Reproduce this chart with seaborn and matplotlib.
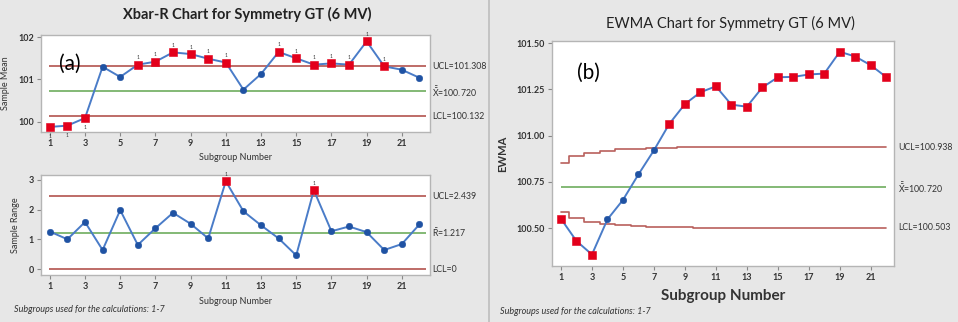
import matplotlib
matplotlib.use("Agg")
import matplotlib.pyplot as plt
import seaborn as sns
import pandas as pd
from matplotlib.lines import Line2D

# ---------------- data ----------------
subgroups = list(range(1, 23))
xbar = [99.88, 99.91, 100.09, 101.30, 101.06, 101.35, 101.42, 101.64, 101.60, 101.49, 101.40,
        100.76, 101.13, 101.65, 101.50, 101.35, 101.38, 101.35, 101.90, 101.31, 101.23, 101.04]
xbar_flag = [1, 1, 1, 0, 0, 1, 1, 1, 1, 1, 1, 0, 0, 1, 1, 1, 1, 1, 1, 1, 0, 0]
xbar_limits = {"UCL": 101.308, "CL": 100.720, "LCL": 100.132}

rng = [1.26, 1.00, 1.58, 0.64, 1.98, 0.81, 1.37, 1.89, 1.52, 1.03, 2.95,
       1.94, 1.47, 1.03, 0.46, 2.65, 1.27, 1.43, 1.24, 0.64, 0.84, 1.50]
rng_flag = [0, 0, 0, 0, 0, 0, 0, 0, 0, 0, 1, 0, 0, 0, 0, 1, 0, 0, 0, 0, 0, 0]
rng_limits = {"UCL": 2.439, "CL": 1.217, "LCL": 0.0}

ewma = [100.55, 100.43, 100.357, 100.547, 100.652, 100.79, 100.92, 101.064, 101.17, 101.234, 101.266,
        101.167, 101.156, 101.26, 101.315, 101.317, 101.33, 101.335, 101.453, 101.427, 101.38, 101.316]
ewma_flag = [1, 1, 1, 0, 0, 0, 0, 1, 1, 1, 1, 1, 1, 1, 1, 1, 1, 1, 1, 1, 1, 1]
ewma_ucl = [100.851, 100.887, 100.907, 100.919, 100.926, 100.930, 100.933, 100.935, 100.936, 100.937, 100.937,
            100.938, 100.938, 100.938, 100.938, 100.938, 100.938, 100.938, 100.938, 100.938, 100.938, 100.938]
ewma_lcl = [100.589, 100.553, 100.533, 100.521, 100.514, 100.510, 100.507, 100.505, 100.504, 100.503, 100.503,
            100.503, 100.503, 100.503, 100.503, 100.503, 100.503, 100.503, 100.503, 100.503, 100.503, 100.503]
ewma_cl = 100.720

xticks = [1, 3, 5, 7, 9, 11, 13, 15, 17, 19, 21]

# ---------------- style ----------------
sns.set_theme(style="white")
plt.rcParams["font.family"] = ["Lato", "DejaVu Sans"]
plt.rcParams["mathtext.default"] = "regular"

BG = "#e7e7e7"
LINE = "#4a7cc8"
DOT = "#1f52a3"
RED = "#e3001b"
LIMIT = "#b9605c"
CENTER = "#79b36a"
TXT = "#333333"

fig = plt.figure(figsize=(9.58, 3.22), dpi=100, facecolor=BG)
fig.add_artist(Line2D([489 / 958, 489 / 958], [0, 1], color="#bdbdbd", lw=1.2, transform=fig.transFigure))


def style_axes(ax, xlim, ylim, yticks, yfmt, tick_fs=6.5):
    ax.set_facecolor("white")
    ax.set_xlim(*xlim)
    ax.set_ylim(*ylim)
    ax.set_xticks(xticks)
    ax.set_xticklabels([str(t) for t in xticks], fontsize=tick_fs, fontweight="bold", color=TXT)
    ax.set_yticks(yticks)
    ax.set_yticklabels([yfmt.format(t) for t in yticks], fontsize=tick_fs, fontweight="bold", color=TXT)
    for s in ax.spines.values():
        s.set_color("#b5b5b5")
        s.set_linewidth(1.0)
    ax.tick_params(axis="both", length=3, width=0.8, color="#888888", pad=2, direction="out")
    ax.tick_params(bottom=True, left=True)


def draw_series(ax, values, flags):
    df = pd.DataFrame({"x": subgroups, "y": values, "flag": flags})
    sns.lineplot(data=df, x="x", y="y", ax=ax, color=LINE, lw=1.4, zorder=3, legend=False)
    ok = df[df["flag"] == 0]
    bad = df[df["flag"] == 1]
    sns.scatterplot(data=ok, x="x", y="y", ax=ax, color=DOT, marker="o", s=22, edgecolor=DOT, zorder=4, legend=False)
    sns.scatterplot(data=bad, x="x", y="y", ax=ax, color=RED, marker="s", s=26, edgecolor=RED, zorder=4, legend=False)
    ax.set_xlabel("")
    ax.set_ylabel("")
    return bad


def limit_label(ax, x, y, s):
    ax.text(x, y, s, transform=ax.get_yaxis_transform(), fontsize=6.3, va="center", color=TXT)


# ---------------- Xbar chart ----------------
ax1 = fig.add_axes([41 / 958, 1 - 132 / 322, 389 / 958, 97 / 322])
for key, col in (("UCL", LIMIT), ("CL", CENTER), ("LCL", LIMIT)):
    ax1.hlines(xbar_limits[key], 0.95, 22.4, color=col, lw=1.3, zorder=2)
bad = draw_series(ax1, xbar, xbar_flag)
for _, r in bad.iterrows():
    below = r["y"] < xbar_limits["LCL"]
    ax1.annotate("1", (r["x"], r["y"]), xytext=(0, -7 if below else 5), textcoords="offset points",
                 ha="center", va="center", fontsize=3.5, color=TXT)
style_axes(ax1, (0.5, 22.6), (99.76, 102.05), [100, 101, 102], "{:g}")
ax1.set_ylabel("Sample Mean", fontsize=6.5, color=TXT, labelpad=6)
ax1.set_xlabel("Subgroup Number", fontsize=6.5, color=TXT, labelpad=4)
ax1.text(0.045, 0.64, "(a)", transform=ax1.transAxes, fontsize=15, color="black", va="baseline")
limit_label(ax1, 1.005, xbar_limits["UCL"], "UCL=101.308")
limit_label(ax1, 1.005, xbar_limits["CL"], r"$\bar{\bar{X}}$=100.720")
limit_label(ax1, 1.005, xbar_limits["LCL"], "LCL=100.132")

# ---------------- R chart ----------------
ax2 = fig.add_axes([41 / 958, 1 - 275 / 322, 389 / 958, 100 / 322])
for key, col in (("UCL", LIMIT), ("CL", CENTER), ("LCL", LIMIT)):
    ax2.hlines(rng_limits[key], 0.95, 22.4, color=col, lw=1.3, zorder=2)
bad = draw_series(ax2, rng, rng_flag)
for _, r in bad.iterrows():
    ax2.annotate("1", (r["x"], r["y"]), xytext=(0, 5), textcoords="offset points",
                 ha="center", va="center", fontsize=3.5, color=TXT)
style_axes(ax2, (0.5, 22.6), (-0.2, 3.16), [0, 1, 2, 3], "{:g}")
ax2.set_ylabel("Sample Range", fontsize=6.5, color=TXT, labelpad=6)
ax2.set_xlabel("Subgroup Number", fontsize=6.5, color=TXT, labelpad=4)
limit_label(ax2, 1.005, rng_limits["UCL"], "UCL=2.439")
limit_label(ax2, 1.005, rng_limits["CL"], r"$\bar{R}$=1.217")
limit_label(ax2, 1.005, rng_limits["LCL"], "LCL=0")

# ---------------- EWMA chart ----------------
ax3 = fig.add_axes([552 / 958, 1 - 266 / 322, 342 / 958, 225 / 322])
lim_df = pd.DataFrame({"x": subgroups, "ucl": ewma_ucl, "lcl": ewma_lcl})
ax3.plot(lim_df["x"], lim_df["ucl"], drawstyle="steps-mid", color=LIMIT, lw=1.2, zorder=2)
ax3.plot(lim_df["x"], lim_df["lcl"], drawstyle="steps-mid", color=LIMIT, lw=1.2, zorder=2)
ax3.hlines(ewma_cl, 1, 22, color=CENTER, lw=1.3, zorder=2)
draw_series(ax3, ewma, ewma_flag)
style_axes(ax3, (0.42, 22.5), (100.295, 101.511), [100.50, 100.75, 101.00, 101.25, 101.50], "{:.2f}", tick_fs=6.5)
ax3.set_ylabel("EWMA", fontsize=8, fontweight="bold", color=TXT, labelpad=6)
ax3.set_xlabel("Subgroup Number", fontsize=11, fontweight="bold", color=TXT, labelpad=5)
ax3.text(0.072, 0.83, "(b)", transform=ax3.transAxes, fontsize=15, color="black", va="baseline")
limit_label(ax3, 1.012, ewma_ucl[-1], "UCL=100.938")
limit_label(ax3, 1.012, ewma_cl, r"$\bar{\bar{X}}$=100.720")
limit_label(ax3, 1.012, ewma_lcl[-1], "LCL=100.503")

# ---------------- titles and notes ----------------
fig.text(247 / 958, 1 - 14 / 322, "Xbar-R Chart for Symmetry GT (6 MV)", ha="center", va="center",
         fontsize=10.5, fontweight="bold", color="#222222")
fig.text(730 / 958, 1 - 23 / 322, "EWMA Chart for Symmetry GT (6 MV)", ha="center", va="center",
         fontsize=10.5, color="#222222")
fig.text(14 / 958, 1 - 309 / 322, "Subgroups used for the calculations: 1-7", ha="left", va="center",
         fontsize=6.5, style="italic", color=TXT)
fig.text(500 / 958, 1 - 311 / 322, "Subgroups used for the calculations: 1-7", ha="left", va="center",
         fontsize=6.5, style="italic", color=TXT)

fig.savefig("out.png", dpi=100, facecolor=BG)
